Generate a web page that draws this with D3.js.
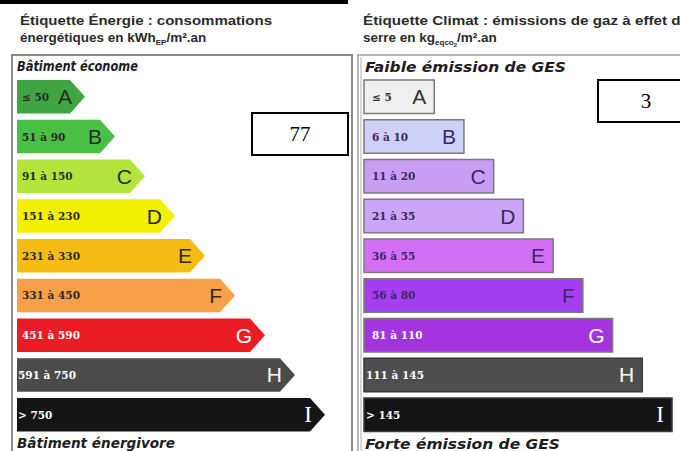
<!DOCTYPE html>
<html><head><meta charset="utf-8">
<script src="https://cdn.jsdelivr.net/npm/d3@7"></script>
<style>html,body{margin:0;padding:0;background:#fff;overflow:hidden}</style>
</head><body>
<svg id="c" width="680" height="451"></svg>
<script>
const classes = ["A","B","C","D","E","F","G","H","I"];
const classRank = [1,2,3,4,5,6,7,8,9];
const energyRanges = ["≤ 50","51 à 90","91 à 150","151 à 230","231 à 330","331 à 450","451 à 590","591 à 750","> 750"];
const energyColors = ["#3fa543","#49bf45","#b3e43e","#f4f004","#f5bd14","#f7a047","#ec1c24","#4b4b4b","#151515"];
const energyTextColors = ["#2a2a2a","#2a2a2a","#2a2a2a","#2a2a2a","#2a2a2a","#2a2a2a","#ffffff","#ffffff","#ffffff"];
const gesRanges = ["≤ 5","6 à 10","11 à 20","21 à 35","36 à 55","56 à 80","81 à 110","111 à 145","> 145"];
const gesColors = ["#efefef","#cdd0f7","#c89ef5","#caa5f8","#d36ff5","#a33ef1","#a333df","#4e4e4e","#141414"];
const gesTextColors = ["#333333","#3a2766","#3a2766","#3a2766","#3a2766","#3a2766","#ffffff","#ffffff","#ffffff"];
const energyValue = "77";
const gesValue = "3";

const svg = d3.select("#c");
const sans = "'Liberation Sans', Arial, sans-serif";
const verd = "'DejaVu Sans', Verdana, sans-serif";
const serif = "'DejaVu Serif', Georgia, serif";

// top black bar
svg.append("rect").attr("x",0).attr("y",0).attr("width",348).attr("height",4).attr("fill","#000");

// titles
function title(x, y, parts, len){
  const t = svg.append("text").attr("x",x).attr("y",y).attr("font-family",sans).attr("font-weight","bold")
    .attr("font-size",13.5).attr("fill","#2b2b2b");
  parts.forEach(p=>{
    const s = t.append("tspan").text(p.t);
    if(p.sub) s.attr("font-size",p.sub);
    if(p.dy) s.attr("dy",p.dy);
  });
  if(len) t.attr("textLength",len).attr("lengthAdjust","spacingAndGlyphs");
}
title(20,25,[{t:"Étiquette Énergie : consommations"}],252);
title(20,42,[{t:"énergétiques en kWh"},{t:"EP",sub:8,dy:3},{t:"/m².an",dy:-3}]);
title(363,25,[{t:"Étiquette Climat : émissions de gaz à effet de"}],326);
title(363,42,[{t:"serre en kg"},{t:"eqco",sub:8,dy:3},{t:"2",sub:6,dy:2},{t:"/m².an",dy:-5}]);

// panels
svg.append("rect").attr("x",12).attr("y",55).attr("width",340).attr("height",420)
  .attr("fill","#fff").attr("stroke","#8a8a8a").attr("stroke-width",2);
svg.append("rect").attr("x",358).attr("y",55).attr("width",340).attr("height",420)
  .attr("fill","#fff").attr("stroke","#8a8a8a").attr("stroke-width",1.2);
svg.append("line").attr("x1",361).attr("x2",361).attr("y1",57).attr("y2",451).attr("stroke","#b0b0b0").attr("stroke-width",1);

function label(x,y,txt,len){
  svg.append("text").attr("x",x).attr("y",y).attr("font-family",verd).attr("font-weight","bold")
    .attr("font-style","italic").attr("font-size",13.5).attr("fill","#1e1e1e").text(txt)
    .attr("textLength",len).attr("lengthAdjust","spacingAndGlyphs");
}
label(17,71,"Bâtiment économe",121);
label(17,448,"Bâtiment énergivore",158);
label(365,72,"Faible émission de GES",201);
label(365,449,"Forte émission de GES",195);

// scales
const y = d3.scaleBand().domain(classes).range([80,431.5]).paddingInner(0.157).paddingOuter(0);
const bh = y.bandwidth();
const xE = d3.scaleLinear().domain([0,9]).range([55,325]);
const xG = d3.scaleLinear().domain([0,9]).range([404.5,672]);
const x0E = 17, x0G = 364, tip = 15;

const eg = svg.append("g");
classes.forEach((c,i)=>{
  const top = y(c), end = xE(classRank[i]);
  eg.append("path").attr("d",`M${x0E},${top}H${end-tip}L${end},${top+bh/2}L${end-tip},${top+bh}H${x0E}Z`)
    .attr("fill",energyColors[i]);
  eg.append("text").attr("x", i>=7 ? 18 : 22).attr("y",top+bh/2+4).attr("font-family",serif).attr("font-weight","bold")
    .attr("font-size",10.5).attr("fill",energyTextColors[i]).text(energyRanges[i]);
  eg.append("text").attr("x",end-tip+2).attr("y",top+bh/2+7.5).attr("text-anchor","end")
    .attr("font-family", c==="I" ? "'Liberation Serif', serif" : sans)
    .attr("font-size",c==="I"?23:21).attr("fill",energyTextColors[i]).text(c);
});

const gg = svg.append("g");
classes.forEach((c,i)=>{
  const top = y(c), end = xG(classRank[i]);
  gg.append("rect").attr("x",x0G).attr("y",top).attr("width",end-x0G).attr("height",bh)
    .attr("fill",gesColors[i]).attr("stroke", i>=7 ? "#3a3a3a" : "#7a7a7a").attr("stroke-width",1.5);
  gg.append("text").attr("x", i>=7 ? 366 : 372).attr("y",top+bh/2+4).attr("font-family",serif).attr("font-weight","bold")
    .attr("font-size",10.5).attr("fill",gesTextColors[i]).text(gesRanges[i]);
  gg.append("text").attr("x",end-8).attr("y",top+bh/2+7.5).attr("text-anchor","end")
    .attr("font-family", c==="I" ? "'Liberation Serif', serif" : sans)
    .attr("font-size",c==="I"?23:21).attr("fill",gesTextColors[i]).text(c);
});

// value boxes
function vbox(x,yy,val){
  svg.append("rect").attr("x",x).attr("y",yy).attr("width",96).attr("height",42)
    .attr("fill","#fff").attr("stroke","#000").attr("stroke-width",2);
  svg.append("text").attr("x",x+48).attr("y",yy+28).attr("text-anchor","middle")
    .attr("font-family","'Liberation Serif', 'Times New Roman', serif").attr("font-size",21).attr("fill","#000").text(val);
}
vbox(252,113,energyValue);
vbox(598,80,gesValue);
</script>
</body></html>
